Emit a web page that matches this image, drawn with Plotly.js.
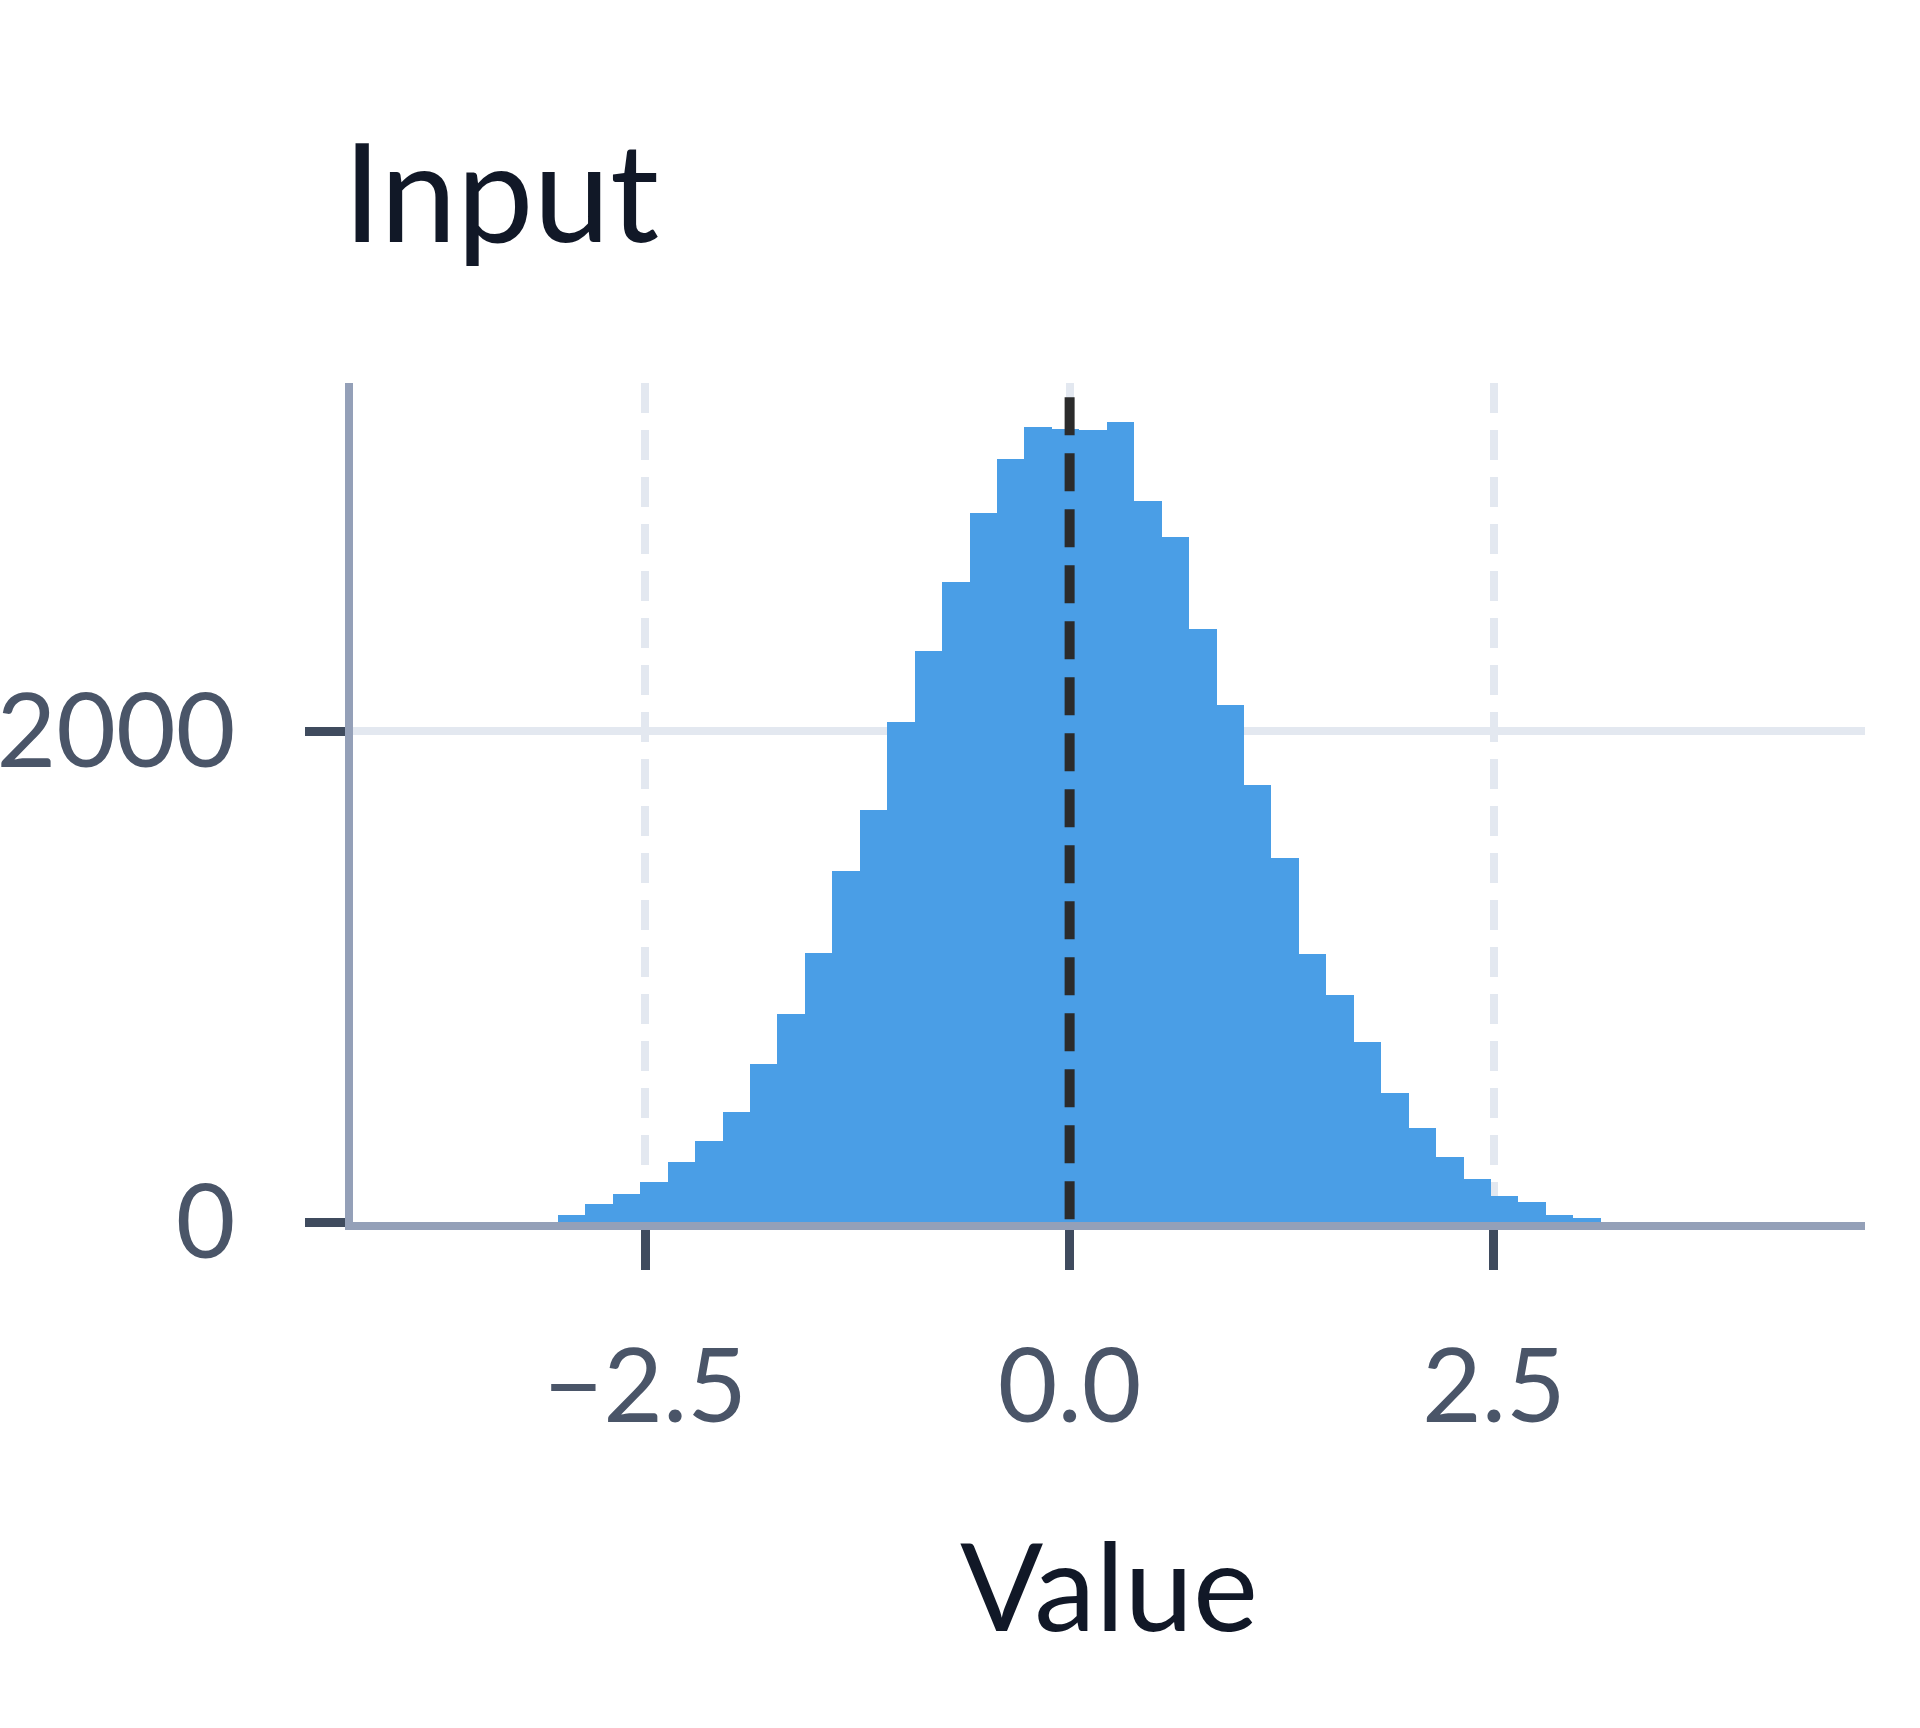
<!DOCTYPE html>
<html>
<head>
<meta charset="utf-8">
<script src="https://cdn.plot.ly/plotly-3.0.1.min.js"></script>
<style>
    body { margin: 0; background: #ffffff; }
    #graph { width: 1920px; height: 1728px; }
</style>
</head>
<body>
<div id="graph"></div>
<script>
/* ----- Data ------------------------------ */
var binStart = -3.015; // left edge of the first bin
var binSize = 0.1617; // width of one bin
var counts = [30, 72, 114, 165, 244, 329, 450, 643, 847, 1095,
    1432, 1680, 2037, 2327, 2610, 2891, 3111, 3241, 3234, 3230,
    3260, 2938, 2792, 2416, 2108, 1783, 1485, 1094, 926, 734,
    524, 385, 264, 175, 108, 80, 30, 15];
var meanValue = 0.0; // position of the dashed reference line

var xTickVals = [-2.5, 0, 2.5];
var xTickText = ['\u22122.5', '0.0', '2.5'];
var yTickVals = [0, 2000];
var yTickText = ['0', '2000'];

var chartTitle = 'Input';
var xTitle = 'Value';

/* ----- Colours and fonts ------- */
var barColor = '#4a9ee6';
var axisLineColor = '#94a0b8';
var tickColor = '#3f4b5e';
var gridColor = '#e3e8f0';
var labelColor = '#4a5568';
var titleColor = '#111827';
var fontFamily = 'Lato, Noto Sans, sans-serif';

/* ----- Bin centres from the bin edges ------- */
var centers = counts.map(function(c, i) {
    return binStart + binSize*(i + 0.5);
});

var trace0 = {
    x: centers,
    y: counts,
    width: binSize,
    type: 'bar',
    marker: {
        color: barColor,
        line: {width: 0}
    },
    hoverinfo: 'none',
    showlegend: false
};

var layout = {
    width: 1920,
    height: 1728,
    paper_bgcolor: '#ffffff',
    plot_bgcolor: '#ffffff',
    font: {family: fontFamily, color: labelColor},
    bargap: 0,
    margin: {
        l: 353,
        r: 55,
        t: 383,
        b: 506
    },
    title: {
        text: chartTitle,
        font: {size: 137, color: titleColor, family: fontFamily},
        x: 343/1920,
        xref: 'container',
        xanchor: 'left',
        y: 1 - 194/1728,
        yref: 'container',
        yanchor: 'middle'
    },
    xaxis: {
        range: [-4.222, 4.686],
        autorange: false,
        tickvals: xTickVals,
        ticktext: xTickText,
        ticks: 'outside',
        ticklen: 40,
        tickwidth: 9,
        tickcolor: tickColor,
        ticklabelstandoff: 28,
        tickfont: {size: 103, color: labelColor, family: fontFamily},
        showline: true,
        linecolor: axisLineColor,
        linewidth: 8,
        showgrid: true,
        gridcolor: gridColor,
        gridwidth: 8,
        griddash: '30px,17px',
        zeroline: false,
        title: {
            text: xTitle,
            font: {size: 123, color: titleColor, family: fontFamily},
            standoff: 105
        }
    },
    yaxis: {
        range: [0, 3420],
        autorange: false,
        tickvals: yTickVals,
        ticktext: yTickText,
        ticks: 'outside',
        ticklen: 40,
        tickwidth: 9,
        tickcolor: tickColor,
        ticklabelstandoff: 49,
        tickfont: {size: 103, color: labelColor, family: fontFamily},
        showline: true,
        linecolor: axisLineColor,
        linewidth: 8,
        showgrid: true,
        gridcolor: gridColor,
        gridwidth: 8,
        zeroline: false
    },
    shapes: [{
        // dashed line at the mean, drawn from the top down
        type: 'line',
        xref: 'x',
        yref: 'paper',
        x0: meanValue,
        x1: meanValue,
        y0: 0.983,
        y1: 0,
        line: {color: '#2b2b2b', width: 10, dash: '38px,18px'},
        layer: 'above'
    }]
};

var graph = document.getElementById('graph');
Plotly.newPlot(graph, [trace0], layout, {staticPlot: true});
</script>
</body>
</html>
